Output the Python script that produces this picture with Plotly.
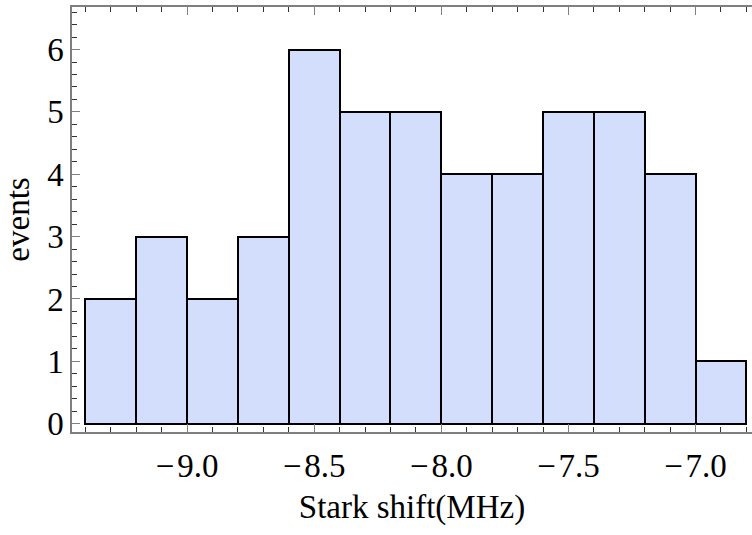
import plotly.graph_objects as go

bin_left_edges = [-9.4, -9.2, -9.0, -8.8, -8.6, -8.4, -8.2, -8.0, -7.8, -7.6, -7.4, -7.2, -7.0]
bin_width = 0.2
counts = [2, 3, 2, 3, 6, 5, 5, 4, 4, 5, 5, 4, 1]
x_tick_vals = [-9.0, -8.5, -8.0, -7.5, -7.0]
x_tick_text = ["\u2212\u200a9.0", "\u2212\u200a8.5", "\u2212\u200a8.0", "\u2212\u200a7.5", "\u2212\u200a7.0"]
y_tick_vals = [0, 1, 2, 3, 4, 5, 6]

centers = [e + bin_width / 2 for e in bin_left_edges]

FONT = "Liberation Serif"
FRAME = "#7f7f7f"
FS = 33

fig = go.Figure()
fig.add_trace(go.Bar(
    x=centers, y=counts, width=[bin_width] * len(counts),
    marker=dict(color="rgb(211,221,252)", line=dict(color="black", width=2)),
    showlegend=False,
))

fig.update_layout(
    width=752, height=535,
    margin=dict(l=72, r=0, t=7, b=103, pad=0),
    paper_bgcolor="white", plot_bgcolor="white",
    font=dict(family=FONT, size=FS, color="black"),
    bargap=0,
    xaxis=dict(
        range=[-9.4528, -6.778],
        tickmode="array", tickvals=x_tick_vals, ticktext=x_tick_text,
        ticks="inside", ticklen=8, tickwidth=1.3, tickcolor=FRAME,
        showline=True, linecolor=FRAME, linewidth=1.5, mirror="ticks",
        showgrid=False, zeroline=False,
        minor=dict(dtick=0.1, tick0=-9.0, ticks="inside", ticklen=5, tickwidth=1, tickcolor="#333333", showgrid=False),
        title=dict(text="Stark shift(MHz)", standoff=12, font=dict(size=FS)),
        tickfont=dict(size=FS),
        ticklabelstandoff=4,
    ),
    yaxis=dict(
        range=[-0.133, 6.682],
        tickmode="array", tickvals=y_tick_vals,
        ticks="inside", ticklen=8, tickwidth=1.3, tickcolor=FRAME,
        showline=True, linecolor=FRAME, linewidth=1.5,
        showgrid=False, zeroline=False,
        minor=dict(dtick=0.2, tick0=0, ticks="inside", ticklen=5, tickwidth=1, tickcolor="#333333", showgrid=False),
        title=dict(text="events", standoff=8, font=dict(size=FS)),
        tickfont=dict(size=FS),
    ),
)

fig.write_html("out.html")
